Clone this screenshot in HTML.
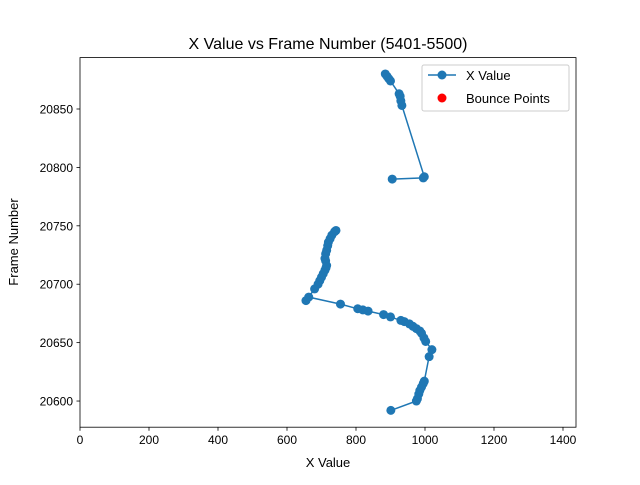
<!DOCTYPE html>
<html><head><meta charset="utf-8"><style>body{margin:0;background:#fff}svg{font-family:"Liberation Sans","DejaVu Sans",sans-serif}</style></head>
<body>
<svg id="c" width="640" height="480" xmlns="http://www.w3.org/2000/svg">
<rect width="640" height="480" fill="#fff"/>
<text x="328" y="49" font-size="16" text-anchor="middle">X Value vs Frame Number (5401-5500)</text>
<g id="plot"></g>
<rect x="80" y="57.6" width="496" height="369.6" fill="none" stroke="#000" stroke-width="0.8"/>
<text x="328" y="467" font-size="13" text-anchor="middle">X Value</text>
<text x="18" y="242" font-size="13" text-anchor="middle" transform="rotate(-90 18 242)">Frame Number</text>
<g>
<rect x="422" y="65" width="147" height="46" rx="2" fill="#fff" fill-opacity="0.8" stroke="#ccc"/>
<line x1="428" y1="75" x2="456" y2="75" stroke="#1f77b4" stroke-width="1.5"/>
<circle cx="442" cy="75" r="4.5" fill="#1f77b4"/>
<text x="466" y="80" font-size="13">X Value</text>
<circle cx="442" cy="98" r="4.5" fill="red"/>
<text x="466" y="103" font-size="13">Bounce Points</text>
</g>
</svg>
<script>
const xTicks=[0,200,400,600,800,1000,1200,1400];
const yTicks=[20600,20650,20700,20750,20800,20850];
const xVals=[901,975,978,982,985,990,995,998,1012,1020,1002,997,990,985,975,965,955,940,930,900,880,835,820,805,755,663,655,680,690,695,700,705,710,713,715,712,710,712,715,718,720,725,730,738,742,null,905,995,998,933,930,928,925,900,895,890,885];
const frames=[20592,20600,20602,20606,20609,20612,20615,20617,20638,20644,20651,20654,20658,20660,20662,20664,20666,20668,20669,20672,20674,20677,20678,20679,20683,20689,20686,20696,20700,20703,20706,20709,20712,20714,20716,20720,20722,20726,20729,20733,20736,20739,20742,20745,20746,null,20790,20791,20792,20853,20857,20861,20863,20874,20876,20878,20880];
const NS='http://www.w3.org/2000/svg';
const X0=80,X1=576,Y0=427.2,Y1=57.6,xmin=0,xmax=1437.7,ymin=20577.6,ymax=20894;
const sx=v=>X0+(v-xmin)/(xmax-xmin)*(X1-X0);
const sy=v=>Y0-(v-ymin)/(ymax-ymin)*(Y0-Y1);
const svg=document.getElementById('c'),g=document.getElementById('plot');
function mk(t,a){const e=document.createElementNS(NS,t);for(const k in a)e.setAttribute(k,a[k]);return e;}
xTicks.forEach(t=>{const x=sx(t);
 const l=mk('line',{x1:x,x2:x,y1:Y0,y2:Y0+3.5,stroke:'#000','stroke-width':0.8});
 
 svg.appendChild(l);
 const tx=mk('text',{x:x,y:Y0+17,'font-size':12,'text-anchor':'middle'});tx.textContent=t;
 
 svg.appendChild(tx);});
yTicks.forEach(t=>{const y=sy(t);
 const l=mk('line',{x1:X0-3.5,x2:X0,y1:y,y2:y,stroke:'#000','stroke-width':0.8});
 
 svg.appendChild(l);
 const tx=mk('text',{x:X0-7,y:y+4.5,'font-size':12,'text-anchor':'end'});tx.textContent=t;
 
 svg.appendChild(tx);});
let d='',pen=false;
xVals.forEach((v,i)=>{if(v===null||frames[i]===null){pen=false;return;}
 d+=(pen?'L':'M')+sx(v).toFixed(1)+','+sy(frames[i]).toFixed(1);pen=true;});
const p=mk('path',{d:d,fill:'none',stroke:'#1f77b4','stroke-width':1.5});

g.appendChild(p);
xVals.forEach((v,i)=>{if(v===null)return;
 const c=mk('circle',{cx:sx(v),cy:sy(frames[i]),r:4.5,fill:'#1f77b4'});
 
 g.appendChild(c);});
</script>
</body></html>
